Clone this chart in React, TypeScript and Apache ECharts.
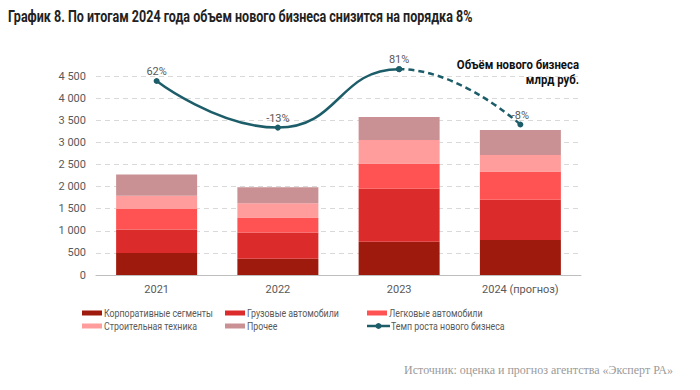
import React, { useEffect, useRef } from "react";
import * as echarts from "echarts";

const categories = ["2021", "2022", "2023", "2024 (прогноз)"];
const corporate = [500, 370, 750, 790];
const trucks = [530, 590, 1200, 910];
const cars = [460, 340, 570, 640];
const construction = [300, 325, 535, 375];
const other = [480, 360, 520, 565];
const growth = [62, -13, 81, -8];

const seriesNames = [
  "Корпоративные сегменты",
  "Грузовые автомобили",
  "Легковые автомобили",
  "Строительная техника",
  "Прочее",
];
const lineName = "Темп роста нового бизнеса";
const colors = ["#9E1A0D", "#DC2B2B", "#FF5252", "#FF9C9C", "#C99194"];
const lineColor = "#1C5D69";
const clear = "rgba(0,0,0,0)";

const sans = "Roboto, sans-serif";

export default function App() {
  const ref = useRef<HTMLDivElement>(null);
  useEffect(() => {
    if (!ref.current) return;
    const chart = echarts.init(ref.current, undefined, { renderer: "svg" });
    const barData = [corporate, trucks, cars, construction, other];
    const fmt = (v: number) => String(v).replace(/\B(?=(\d{3})+(?!\d))/g, " ");

    const legendItems: [string, number, number, string][] = [
      [seriesNames[0], 82, 313, colors[0]],
      [seriesNames[1], 225, 313, colors[1]],
      [seriesNames[2], 367, 313, colors[2]],
      [seriesNames[3], 82, 326, colors[3]],
      [seriesNames[4], 225, 326, colors[4]],
      [lineName, 367, 326, "line"],
    ];
    const legendGraphics: any[] = [];
    legendItems.forEach(([name, x, y, c]) => {
      if (c === "line") {
        legendGraphics.push({
          type: "line",
          shape: { x1: x, y1: y, x2: x + 23, y2: y },
          style: { stroke: lineColor, lineWidth: 2.5 },
        });
        legendGraphics.push({
          type: "circle",
          shape: { cx: x + 11.5, cy: y, r: 3 },
          style: { fill: lineColor },
        });
      } else {
        legendGraphics.push({
          type: "rect",
          shape: { x, y: y - 2.5, width: 20, height: 5 },
          style: { fill: c },
        });
      }
      legendGraphics.push({
        type: "text",
        x: x + (c === "line" ? 24 : 22),
        y,
        scaleX: 0.84,
        style: {
          text: name,
          fill: "#595959",
          font: "10.5px " + sans,
          verticalAlign: "middle",
        },
      });
    });

    const pctLabel = (idxs: number[]) => ({
      show: true,
      position: "top",
      distance: 1,
      color: "#595959",
      fontSize: 11,
      fontFamily: sans,
      formatter: (p: any) => (idxs.includes(p.dataIndex) ? p.value + "%" : ""),
    });

    chart.setOption({
      animation: false,
      grid: { left: 96, right: 119, top: 76, bottom: 115 },
      xAxis: {
        type: "category",
        data: categories,
        axisLine: { lineStyle: { color: "#BFBFBF" } },
        axisTick: { show: false },
        axisLabel: { color: "#595959", fontSize: 11, fontFamily: sans, margin: 9 },
      },
      yAxis: [
        {
          type: "value",
          min: 0,
          max: 4500,
          interval: 500,
          axisLabel: {
            color: "#595959",
            fontSize: 11,
            fontFamily: sans,
            formatter: fmt,
            margin: 10,
          },
          splitLine: { lineStyle: { color: "#D9D9D9", type: [5, 4] } },
          axisLine: { show: false },
          axisTick: { show: false },
        },
        { type: "value", min: -250, max: 70, show: false, splitLine: { show: false } },
      ],
      visualMap: [
        {
          show: false,
          type: "piecewise",
          dimension: 0,
          seriesIndex: 5,
          pieces: [{ gte: -1, lte: 2, color: lineColor }],
          outOfRange: { color: clear },
        },
        {
          show: false,
          type: "piecewise",
          dimension: 0,
          seriesIndex: 6,
          pieces: [{ gte: 2, lte: 5, color: lineColor }],
          outOfRange: { color: clear },
        },
      ],
      graphic: [
        {
          type: "text",
          x: 8,
          y: 9,
          scaleX: 0.783,
          style: {
            text: "График 8. По итогам 2024 года объем нового бизнеса снизится на порядка 8%",
            fill: "#222",
            font: "bold 16px " + sans,
          },
        },
        {
          type: "text",
          x: 579,
          y: 57,
          scaleX: 0.91,
          style: {
            text: "Объём нового бизнеса\nмлрд руб.",
            align: "right",
            fill: "#111",
            font: "bold 12.5px " + sans,
            lineHeight: 15,
          },
        },
        {
          type: "text",
          x: 673,
          y: 364,
          style: {
            text: "Источник: оценка и прогноз агентства «Эксперт РА»",
            align: "right",
            fill: "#9A9A9A",
            font: "12px 'Liberation Serif', serif",
          },
        },
        ...legendGraphics,
      ],
      series: [
        ...barData.map((d, i) => ({
          name: seriesNames[i],
          type: "bar",
          stack: "total",
          barWidth: 81,
          data: d,
          itemStyle: { color: colors[i] },
        })),
        {
          name: lineName,
          type: "line",
          yAxisIndex: 1,
          smooth: true,
          clip: false,
          symbol: "circle",
          symbolSize: 6,
          data: growth,
          lineStyle: { width: 2.5 },
          label: pctLabel([0, 1, 2]),
        },
        {
          name: lineName + " (прогноз)",
          type: "line",
          yAxisIndex: 1,
          smooth: true,
          clip: false,
          symbol: "circle",
          symbolSize: 6,
          data: growth,
          lineStyle: { width: 2.5, type: [6, 4] },
          label: pctLabel([3]),
        },
      ],
    });
    return () => chart.dispose();
  }, []);
  return (
    <div
      ref={ref}
      style={{ position: "absolute", left: 0, top: 0, width: 700, height: 390, background: "#fff" }}
    />
  );
}
